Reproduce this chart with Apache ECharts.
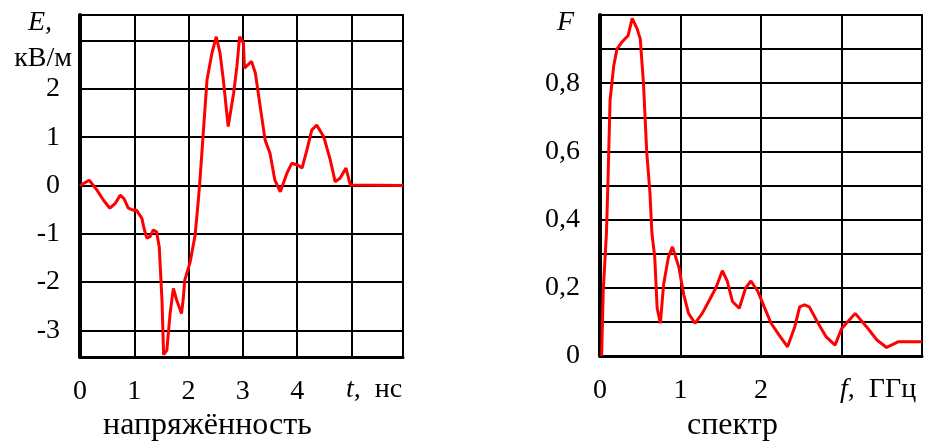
<!DOCTYPE html>
<html>
<head>
<meta charset="utf-8">
<script src="https://cdn.jsdelivr.net/npm/echarts@6/dist/echarts.min.js"></script>
<style>
html,body{margin:0;padding:0;background:#fff;}
#c{width:927px;height:443px;}
</style>
</head>
<body>
<div id="c"></div>
<script>
// Left chart: field strength E (kV/m) vs time t (ns)
const tE = [0, 0.03, 0.17, 0.31, 0.43, 0.55, 0.65, 0.74, 0.81, 0.89, 0.98, 1.04, 1.14, 1.18, 1.23, 1.29, 1.35, 1.41, 1.46, 1.51, 1.54, 1.6, 1.66, 1.72, 1.78, 1.87, 1.9, 1.93, 2.03, 2.12, 2.18, 2.21, 2.27, 2.34, 2.43, 2.51, 2.58, 2.64, 2.73, 2.83, 2.89, 2.94, 3.01, 3.03, 3.16, 3.23, 3.32, 3.41, 3.5, 3.59, 3.69, 3.81, 3.9, 4.02, 4.09, 4.18, 4.27, 4.36, 4.49, 4.61, 4.7, 4.79, 4.9, 4.98, 5.95];
const vE = [0, -0.02, 0.11, -0.09, -0.3, -0.47, -0.37, -0.2, -0.27, -0.47, -0.51, -0.51, -0.68, -0.89, -1.09, -1.06, -0.92, -0.96, -1.27, -2.37, -3.5, -3.41, -2.65, -2.13, -2.37, -2.65, -2.37, -1.96, -1.58, -1.03, -0.3, 0.11, 1.08, 2.19, 2.74, 3.08, 2.74, 2.19, 1.22, 1.91, 2.46, 3.08, 2.95, 2.43, 2.57, 2.33, 1.63, 0.94, 0.67, 0.11, -0.13, 0.25, 0.46, 0.42, 0.36, 0.74, 1.15, 1.25, 1.01, 0.53, 0.08, 0.15, 0.36, 0.01, 0];
const tTicks = ['0', '1', '2', '3', '4'];
const eTicks = ['-3', '-2', '-1', '0', '1', '2'];

// Right chart: spectrum F vs frequency f (GHz)
const fF = [0.02, 0.04, 0.08, 0.1, 0.125, 0.17, 0.21, 0.27, 0.35, 0.4, 0.46, 0.5, 0.54, 0.58, 0.62, 0.645, 0.68, 0.71, 0.75, 0.79, 0.85, 0.9, 0.98, 1.04, 1.1, 1.18, 1.27, 1.35, 1.44, 1.52, 1.58, 1.645, 1.73, 1.81, 1.875, 1.96, 2.04, 2.125, 2.23, 2.33, 2.42, 2.48, 2.54, 2.6, 2.71, 2.81, 2.92, 3.0, 3.17, 3.31, 3.44, 3.56, 3.71, 4.0];
const vF = [0, 0.19, 0.36, 0.52, 0.75, 0.85, 0.9, 0.92, 0.94, 0.99, 0.96, 0.93, 0.8, 0.6, 0.48, 0.36, 0.29, 0.14, 0.096, 0.21, 0.29, 0.32, 0.26, 0.18, 0.125, 0.096, 0.125, 0.16, 0.2, 0.25, 0.22, 0.16, 0.14, 0.2, 0.22, 0.19, 0.144, 0.096, 0.06, 0.027, 0.086, 0.144, 0.15, 0.144, 0.096, 0.056, 0.032, 0.08, 0.125, 0.086, 0.047, 0.025, 0.042, 0.042];
const fTicks = ['0', '1', '2'];
const FTicks = ['0', '0,2', '0,4', '0,6', '0,8'];

const SERIF = '"Liberation Serif","Times New Roman",serif';
const NUM = 28;
const TITLE = 32;

const chart = echarts.init(document.getElementById('c'), null, {renderer: 'canvas'});

function pairs(xs, ys) { return xs.map((x, i) => [x, ys[i]]); }
const lbl = {color: '#000', fontFamily: SERIF, fontSize: NUM};

chart.setOption({
  animation: false,
  backgroundColor: '#fff',
  grid: [
    {left: 80, top: 15, width: 323, height: 342, show: true, borderColor: '#222', borderWidth: 2},
    {left: 600, top: 15, width: 322, height: 341, show: true, borderColor: '#222', borderWidth: 2}
  ],
  xAxis: [
    {gridIndex: 0, type: 'value', min: 0, max: 5.95, interval: 1,
     axisLine: {onZero: false, lineStyle: {color: '#000', width: 3}}, axisTick: {show: false},
     splitLine: {lineStyle: {color: '#000', width: 2}},
     axisLabel: Object.assign({margin: 21, formatter: v => {
       const s = String(Math.round(v)); return (Math.abs(v - Math.round(v)) < 1e-6 && tTicks.includes(s)) ? s : ''; }}, lbl)},
    {gridIndex: 1, type: 'value', min: 0, max: 4, interval: 1,
     axisLine: {onZero: false, lineStyle: {color: '#000', width: 3}}, axisTick: {show: false},
     splitLine: {lineStyle: {color: '#000', width: 2}},
     axisLabel: Object.assign({margin: 21, formatter: v => {
       const s = String(Math.round(v)); return fTicks.includes(s) ? s : ''; }}, lbl)}
  ],
  yAxis: [
    {gridIndex: 0, type: 'value', min: -3.55, max: 3.53, splitNumber: 7,
     axisLine: {onZero: false, lineStyle: {color: '#000', width: 4}}, axisTick: {show: false},
     splitLine: {lineStyle: {color: '#000', width: 2}},
     axisLabel: Object.assign({margin: 20, showMinLabel: false, showMaxLabel: false, formatter: v => {
       if (Math.abs(v - Math.round(v)) > 1e-6) return '';
       const s = String(Math.round(v)); return eTicks.includes(s) ? s : ''; }}, lbl)},
    {gridIndex: 1, type: 'value', min: 0, max: 1, interval: 0.1,
     axisLine: {onZero: false, lineStyle: {color: '#000', width: 4}}, axisTick: {show: false},
     splitLine: {lineStyle: {color: '#000', width: 2}},
     axisLabel: Object.assign({margin: 20, formatter: v => {
       const s = (Math.round(v * 10) / 10).toString().replace('.', ','); return FTicks.includes(s) ? s : ''; }}, lbl)}
  ],
  series: [
    {type: 'line', xAxisIndex: 0, yAxisIndex: 0, data: pairs(tE, vE), showSymbol: false,
     lineStyle: {color: '#ff0000', width: 3}, clip: true},
    {type: 'line', xAxisIndex: 1, yAxisIndex: 1, data: pairs(fF, vF), showSymbol: false,
     lineStyle: {color: '#ff0000', width: 3}, clip: true}
  ],
  graphic: [
    {type: 'text', left: 28, top: 9, style: {text: 'E,', font: 'italic ' + NUM + 'px ' + SERIF, fill: '#000'}},
    {type: 'text', right: 855, top: 45, style: {text: 'кВ/м', font: NUM + 'px ' + SERIF, fill: '#000', textAlign: 'right'}},
    {type: 'text', left: 346, top: 376, style: {text: '{i|t},  нс', font: NUM + 'px ' + SERIF, fill: '#000',
      rich: {i: {fontStyle: 'italic', fontSize: NUM, fontFamily: SERIF}}}},
    {type: 'text', left: 557, top: 9, style: {text: 'F', font: 'italic ' + NUM + 'px ' + SERIF, fill: '#000'}},
    {type: 'text', left: 840, top: 376, style: {text: '{i|f},  ГГц', font: NUM + 'px ' + SERIF, fill: '#000',
      rich: {i: {fontStyle: 'italic', fontSize: NUM, fontFamily: SERIF}}}},
    {type: 'text', left: 103, top: 410, style: {text: 'напряжённость', font: TITLE + 'px ' + SERIF, fill: '#000'}},
    {type: 'text', left: 687, top: 410, style: {text: 'спектр', font: TITLE + 'px ' + SERIF, fill: '#000'}}
  ]
});
</script>
</body>
</html>
